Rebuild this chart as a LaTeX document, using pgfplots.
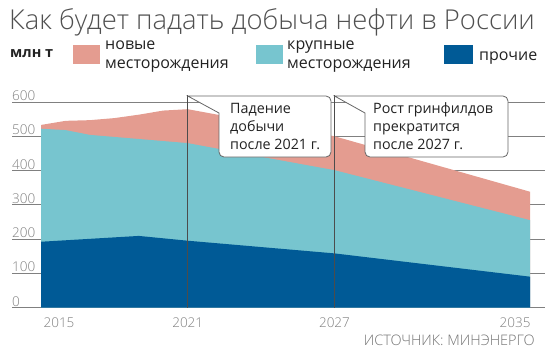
\documentclass[border=0pt]{standalone}
\usepackage{fontspec}
\setmainfont{Open Sans}
\newfontfamily\lightfont{Open Sans Light}
\usepackage{pgfplots}
\pgfplotsset{compat=1.18}
\definecolor{cpink}{HTML}{E49C90}
\definecolor{ccyan}{HTML}{77C5CF}
\definecolor{cblue}{HTML}{005A96}
\definecolor{cgrid}{HTML}{808080}
\definecolor{ctitle}{HTML}{505050}
\definecolor{ctext}{HTML}{222222}
\begin{document}
\begin{tikzpicture}[x=1pt,y=1pt]
\path[use as bounding box] (0,0) rectangle (547,360);
\begin{axis}[
  at={(12pt,52.5pt)}, anchor=south west,
  scale only axis, width=533pt, height=205.5pt,
  xmin=2013.814, xmax=2035.61, ymin=0, ymax=600,
  clip=false,
  axis line style={draw=none},
  major tick length=0pt,
  ytick={0,100,...,600},
  xtick={2015,2021,2027,2035},
  xticklabels={\hspace*{36pt}2015,2021,2027,2035\hspace*{30pt}},
  ymajorgrids,
  grid style={color=cgrid, line width=0.8pt},
  /pgf/number format/assume math mode=true,
  /pgf/number format/1000 sep={},
  yticklabel style={anchor=south west, inner sep=0pt, yshift=1pt, text=gray, font=\lightfont\fontsize{13.5}{13.5}\selectfont},
  xticklabel style={anchor=north, inner sep=0pt, yshift=-10pt, text=gray, font=\lightfont\fontsize{13.5}{13.5}\selectfont},
]
\addplot[fill=cpink, draw=none] coordinates {(2015,533) (2016,545) (2017,547) (2018,553) (2019,563) (2020,575) (2021,579) (2027,500) (2035,338)} \closedcycle;
\addplot[fill=ccyan, draw=none] coordinates {(2015,522) (2016,518) (2017,504) (2019,492) (2021,480) (2024,440) (2027,401) (2035,255)} \closedcycle;
\addplot[fill=cblue, draw=none] coordinates {(2015,192) (2019,209) (2021,195) (2027,158) (2035,90)} \closedcycle;
\draw[color=black!70, line width=0.8pt] (axis cs:2021,0) -- (axis cs:2021,620);
\draw[color=black!70, line width=0.8pt] (axis cs:2027,0) -- (axis cs:2027,620);
\end{axis}
% callouts
\draw[color=black!60, line width=0.8pt, fill=white] (187.7,264) [rounded corners=5pt] -- (331,264) -- (331,203) -- (219,203) [sharp corners] -- (219,247) -- cycle;
\draw[color=black!60, line width=0.8pt, fill=white] (334.5,264) [rounded corners=5pt] -- (508,264) -- (508,203) -- (365,203) [sharp corners] -- (365,247) -- cycle;
\begin{scope}[every node/.style={anchor=base west, inner sep=0pt, text=ctext, font=\fontsize{14.3}{14.3}\selectfont}]
\node at (230,246.7) {Падение};
\node at (230,228.5) {добычи};
\node at (230,210.5) {после 2021 г.};
\node at (373,246.7) {Рост гринфилдов};
\node at (373,228.5) {прекратится};
\node at (373,210.5) {после 2027 г.};
\end{scope}
% title
\node[anchor=base west, inner sep=0pt, text=ctitle, font=\lightfont\fontsize{27.4}{27.4}\selectfont] at (9,331) {Как будет падать добыча нефти в России};
% legend
\node[anchor=base west, inner sep=0pt, text=ctext, font=\bfseries\fontsize{14.5}{14.5}\selectfont] at (10,303) {млн т};
\fill[cpink] (73,296) rectangle (100,315);
\fill[ccyan] (256,296) rectangle (283,315);
\fill[cblue] (444,296) rectangle (473,315);
\begin{scope}[every node/.style={anchor=base west, inner sep=0pt, text=ctext, font=\fontsize{16}{16}\selectfont}]
\node at (105,311) {новые};
\node at (105,292) {месторождения};
\node at (287,311) {крупные};
\node at (287,292) {месторождения};
\node at (479,300) {прочие};
\end{scope}
% source
\node[anchor=base east, inner sep=0pt, text=black!55, font=\lightfont\fontsize{14.5}{14.5}\selectfont] at (535,15) {ИСТОЧНИК: МИНЭНЕРГО};
\end{tikzpicture}
\end{document}
